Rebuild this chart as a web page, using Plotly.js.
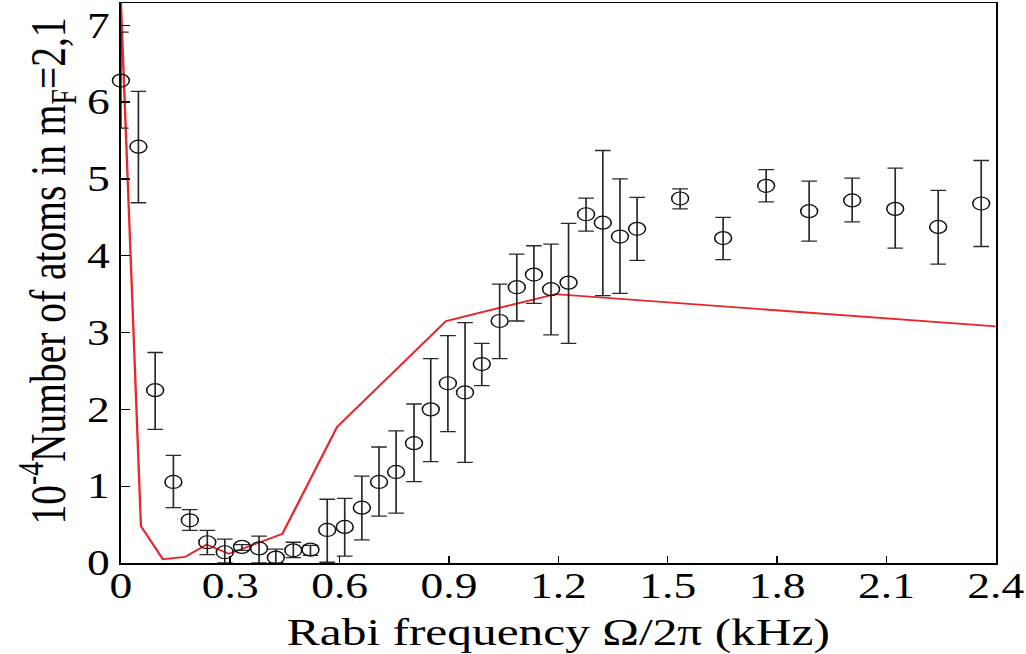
<!DOCTYPE html>
<html>
<head>
<meta charset="utf-8">
<script src="https://cdn.plot.ly/plotly-3.0.1.min.js"></script>
<style>
  html, body { margin: 0; padding: 0; background: #fff; overflow: hidden; }
  #chart { width: 789px; height: 654px; transform: scaleX(1.3); transform-origin: 0 0; }
</style>
</head>
<body>
<div id="chart"></div>
<script>
// Measured data points (Rabi frequency in kHz, atoms in units of 10^4)
const rabiFreq = [0.0, 0.048, 0.094, 0.144, 0.189, 0.237, 0.285, 0.332, 0.379, 0.425, 0.473, 0.52,
  0.566, 0.614, 0.661, 0.708, 0.755, 0.804, 0.85, 0.897, 0.944, 0.99, 1.039, 1.086, 1.133, 1.18,
  1.228, 1.276, 1.322, 1.369, 1.416, 1.534, 1.652, 1.77, 1.888, 2.006, 2.124, 2.242, 2.36];
const atoms = [6.28, 5.42, 2.25, 1.055, 0.556, 0.27, 0.14, 0.21, 0.19, 0.07, 0.165, 0.174,
  0.43, 0.47, 0.72, 1.055, 1.185, 1.56, 2.0, 2.34, 2.22, 2.59, 3.15, 3.59, 3.755, 3.565,
  3.65, 4.54, 4.43, 4.25, 4.35, 4.745, 4.23, 4.91, 4.58, 4.72, 4.61, 4.375, 4.68];
const errUpper = [6.91, 6.14, 2.74, 1.40, 0.695, 0.425, 0.31, 0.24, 0.35, 0.18, 0.27, 0.23,
  0.83, 0.84, 1.13, 1.51, 1.72, 2.07, 2.66, 2.96, 3.13, 2.86, 3.63, 4.02, 4.13, 4.15,
  4.42, 4.75, 5.37, 5.0, 4.76, 4.87, 4.50, 5.12, 4.97, 5.01, 5.14, 4.85, 5.24];
const errLower = [5.66, 4.69, 1.74, 0.72, 0.425, 0.11, 0.0, 0.165, 0.0, 0.0, 0.07, 0.10,
  0.01, 0.09, 0.30, 0.61, 0.65, 1.06, 1.32, 1.71, 1.31, 2.31, 2.66, 3.15, 3.38, 2.97,
  2.86, 4.32, 3.48, 3.51, 3.94, 4.61, 3.95, 4.70, 4.19, 4.44, 4.10, 3.89, 4.12];

// Theory curve (red)
const theoryFreq = [0, 0.055, 0.115, 0.176, 0.235, 0.296, 0.443, 0.593, 0.892, 1.192, 2.4];
const theoryAtoms = [7.3, 0.48, 0.05, 0.08, 0.24, 0.12, 0.38, 1.77, 3.15, 3.5, 3.08];

// Tick labels
const xTickVals = [0, 0.3, 0.6, 0.9, 1.2, 1.5, 1.8, 2.1, 2.4];
const xTickText = ["0", "0.3", "0.6", "0.9", "1.2", "1.5", "1.8", "2.1", "2.4"];
const yTickVals = [0, 1, 2, 3, 4, 5, 6, 7];
const yTickText = ["0", "1", "2", "3", "4", "5", "6", "7"];

const plus = atoms.map((v, i) => errUpper[i] - v);
const minus = atoms.map((v, i) => v - errLower[i]);

const dataTrace = {
  x: rabiFreq, y: atoms, type: 'scatter', mode: 'markers',
  marker: { symbol: 'circle-open', size: 13, color: '#111', line: { width: 1.2, color: '#111' } },
  error_y: { type: 'data', symmetric: false, array: plus, arrayminus: minus,
             color: '#2a2a2a', thickness: 1.3, width: 6 },
  cliponaxis: false, showlegend: false, hoverinfo: 'skip'
};
const theoryTrace = {
  x: theoryFreq, y: theoryAtoms, type: 'scatter', mode: 'lines',
  line: { color: '#e8262b', width: 1.8 }, showlegend: false, hoverinfo: 'skip'
};

const font = { family: '"Liberation Serif", "Times New Roman", serif', color: '#000' };

const layout = {
  width: 789, height: 654,
  margin: { l: 93, r: 23, t: 3, b: 91 },
  paper_bgcolor: '#fff', plot_bgcolor: '#fff',
  font: Object.assign({ size: 35 }, font),
  xaxis: {
    range: [0, 2.4], tickvals: xTickVals, ticktext: xTickText,
    ticks: 'inside', ticklen: 7, tickwidth: 1.2, tickcolor: '#000',
    showline: true, linecolor: '#000', linewidth: 1.5, mirror: true,
    showgrid: false, zeroline: false,
    tickfont: Object.assign({ size: 35 }, font),
    title: { text: 'Rabi frequency Ω/2π (kHz)', font: Object.assign({ size: 38 }, font), standoff: 4 }
  },
  yaxis: {
    range: [0, 7.29], tickvals: yTickVals, ticktext: yTickText,
    ticks: 'inside', ticklen: 7, tickwidth: 1.2, tickcolor: '#000',
    showline: true, linecolor: '#000', linewidth: 1.5, mirror: true,
    showgrid: false, zeroline: false,
    tickfont: Object.assign({ size: 35 }, font),
    title: { text: '10<sup>-4</sup>Number of atoms in m<sub>F</sub>=2,1', font: Object.assign({ size: 39.5 }, font), standoff: 4 }
  }
};

Plotly.newPlot('chart', [theoryTrace, dataTrace], layout, { staticPlot: true, displayModeBar: false })
  .then(function (gd) {
    // nudge x tick labels closer to the axis, and the y title slightly upward
    gd.querySelectorAll('.xtick text').forEach(function (t) {
      const tr = t.getAttribute('transform') || '';
      t.setAttribute('transform', 'translate(0,-8) ' + tr);
    });
    gd.querySelectorAll('.ytitle').forEach(function (t) {
      const tr = t.getAttribute('transform') || '';
      t.setAttribute('transform', 'translate(0,-12) ' + tr);
    });
  });
</script>
</body>
</html>
